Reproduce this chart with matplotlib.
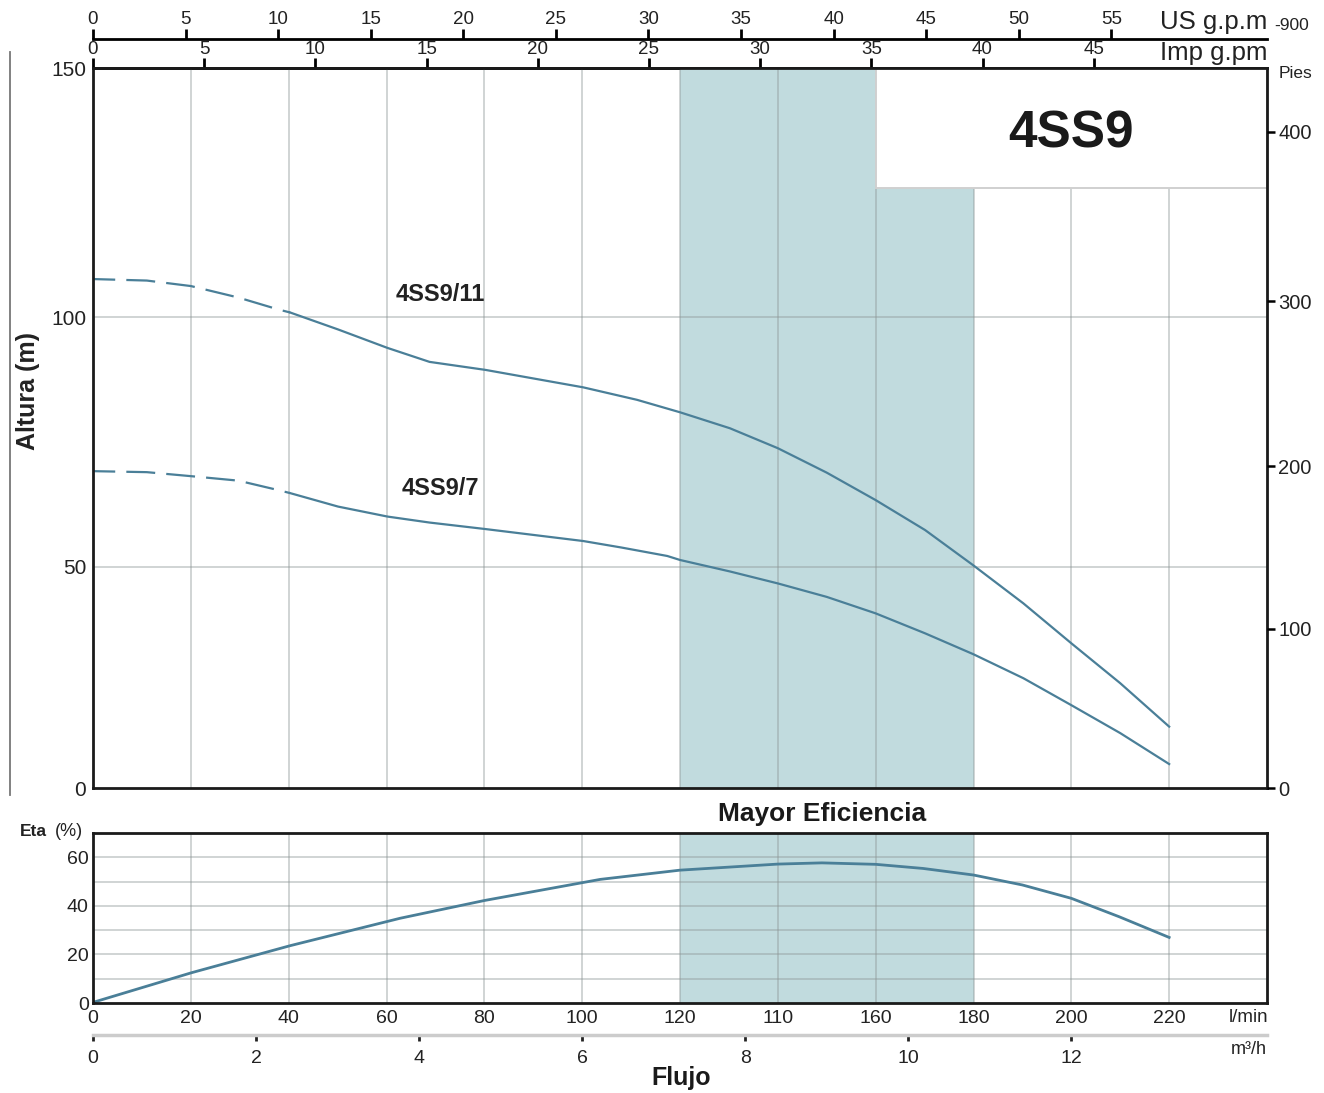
import matplotlib.pyplot as plt
from matplotlib.patches import Rectangle
from matplotlib.lines import Line2D
import numpy as np

plt.rcParams['font.family'] = ['Liberation Sans', 'DejaVu Sans']
narrow = ['Liberation Sans Narrow', 'Liberation Sans', 'DejaVu Sans']

# flow in l/min, head in m
q11 = [0, 11, 20, 29.7, 37.9, 40.3, 50.1, 60.2, 68.8, 80.2, 100.2, 111.2, 120, 130.2, 140, 150,
       160, 170.1, 180, 190.2, 200, 210, 220]
h11 = [107.7, 107.4, 106.3, 104.0, 101.6, 101.0, 97.6, 93.9, 91.1, 89.5, 86.0, 83.5, 81.0, 77.8, 73.8, 68.9,
       63.4, 57.4, 50.3, 42.7, 34.7, 26.7, 18.0]
q7 = [0, 11, 20, 29.7, 37.9, 40.3, 50.1, 60.2, 68.8, 80.2, 100.2, 108, 117.4, 120, 130.2, 140, 150,
      160, 170.1, 180, 190.2, 200, 210, 220]
h7 = [69.2, 69.0, 68.2, 67.3, 65.4, 64.8, 62.1, 60.1, 58.9, 57.6, 55.2, 53.9, 52.2, 51.4, 49.1, 46.7, 44.0,
      40.7, 36.7, 32.5, 27.7, 22.3, 16.7, 10.5]
q_eta = [0.4, 20.2, 40.3, 62.8, 80, 103.7, 120, 140, 149, 160, 169.7, 180, 190, 200, 209.8, 220]
eta = [0.5, 12.5, 23.6, 34.9, 42.2, 50.9, 54.7, 57.2, 57.7, 57.1, 55.4, 52.7, 48.6, 43.1, 35.5, 27.0]
dash_end = 40.3  # dashed part of head curves

lmin_ticks = [0, 20, 40, 60, 80, 100, 120, 140, 160, 180, 200, 220]
lmin_labels = ['0', '20', '40', '60', '80', '100', '120', '110', '160', '180', '200', '220']
us_ticks = list(range(0, 60, 5))
imp_ticks = list(range(0, 50, 5))
m3h_ticks = [0, 2, 4, 6, 8, 10, 12]
pies_labels = ['0', '100', '200', '300', '400']
pies_pos = [5.7, 37.6, 70.2, 103.3, 137.2]
best_lo, best_hi = 120, 180

curve_c = '#4a7f98'
shade_c = '#c1dbde'
grid_c = (0.55, 0.58, 0.58, 0.4)
txt_c = '#222222'
ymin = 5.7

fig = plt.figure(figsize=(13.24, 10.93), dpi=100)
L, W = 93 / 1324, 1174 / 1324

# main head chart
ax = fig.add_axes([L, 305 / 1093, W, 720 / 1093])
ax.set_xlim(0, 240)
ax.set_ylim(ymin, 150)
ax.axvspan(best_lo, best_hi, color=shade_c, zorder=0.5, lw=0)
for x in lmin_ticks[1:]:
    ax.axvline(x, color=grid_c, lw=1.4, zorder=1)
for y in [50, 100]:
    ax.axhline(y, color=grid_c, lw=1.4, zorder=1)
# title box
ax.add_patch(Rectangle((160, 125.9), 80, 30, facecolor='white', edgecolor='#d0d0d0', lw=1.4, zorder=1.5))
ax.text(200, 136.8, '4SS9', fontsize=37, fontweight='bold', family=narrow,
        ha='center', va='center', color='#1a1a1a', zorder=3)

for q, h in [(q11, h11), (q7, h7)]:
    q = np.array(q)
    h = np.array(h)
    ax.plot(q[q <= dash_end], h[q <= dash_end], color=curve_c, lw=1.6, ls=(3, (13, 5)), zorder=2)
    ax.plot(q[q >= dash_end], h[q >= dash_end], color=curve_c, lw=1.6, zorder=2)
ax.text(71, 104.7, '4SS9/11', fontsize=17, fontweight='bold', ha='center', va='center', color=txt_c)
ax.text(71, 65.8, '4SS9/7', fontsize=17, fontweight='bold', ha='center', va='center', color=txt_c)

ax.set_yticks([ymin, 50, 100, 150])
ax.set_yticklabels(['0', '50', '100', '150'])
ax.set_xticks([])
ax.tick_params(axis='y', length=0, pad=5, labelsize=15, labelcolor=txt_c)
for s in ax.spines.values():
    s.set_linewidth(2)
    s.set_color('#1a1a1a')
    s.set_zorder(4)

# right axis in feet
axr = ax.twinx()
axr.set_ylim(ymin, 150)
axr.set_yticks(pies_pos)
axr.set_yticklabels(pies_labels)
axr.tick_params(axis='y', direction='out', length=6, width=1.8, labelsize=14.5, pad=2, labelcolor=txt_c)
for s in axr.spines.values():
    s.set_visible(False)

# Imp g.pm on top
imp = ax.secondary_xaxis('top', functions=(lambda x: x / 4.546, lambda x: x * 4.546))
imp.set_xticks(imp_ticks)
imp.tick_params(direction='out', length=7, width=2, labelsize=13.5, pad=0, labelcolor=txt_c)
imp.spines['top'].set_linewidth(2)
fig.text(1267 / 1324, 1 - 53 / 1093, 'Imp g.pm', fontsize=18.5, ha='right', va='center', color=txt_c)

# US g.p.m line
axu = fig.add_axes([L, 1 - 39 / 1093, W, 0.0001])
axu.set_xlim(0, 240 / 3.785)
for k in ['left', 'right', 'bottom']:
    axu.spines[k].set_visible(False)
axu.spines['top'].set_linewidth(2)
axu.set_yticks([])
axu.xaxis.set_ticks_position('top')
axu.set_xticks(us_ticks)
axu.tick_params(direction='out', length=7, width=2, labelsize=13.5, pad=1, labelcolor=txt_c)
axu.patch.set_visible(False)
fig.text(1267 / 1324, 1 - 22 / 1093, 'US g.p.m', fontsize=18.5, ha='right', va='center', color=txt_c)
fig.text(1274 / 1324, 1 - 25 / 1093, '-900', fontsize=12.5, ha='left', va='center', color=txt_c)
fig.text(1279 / 1324, 1 - 73 / 1093, 'Pies', fontsize=12.5, ha='left', va='center', color=txt_c)

# left thin line and label
fig.add_artist(Line2D([10 / 1324, 10 / 1324], [1 - 52 / 1093, 1 - 795 / 1093], color='#777777', lw=1.3))
fig.text(28 / 1324, 1 - 391 / 1093, 'Altura (m)', fontsize=18, fontweight='bold', rotation=90,
         ha='center', va='center', color=txt_c)

# efficiency chart
ae = fig.add_axes([L, 90 / 1093, W, 170 / 1093])
ae.set_xlim(0, 240)
ae.set_ylim(0, 70)
ae.axvspan(best_lo, best_hi, color=shade_c, zorder=0.5, lw=0)
for x in lmin_ticks[1:]:
    ae.axvline(x, color=grid_c, lw=1.4, zorder=1)
for y in range(10, 70, 10):
    ae.axhline(y, color=grid_c, lw=1.4, zorder=1)
ae.plot(q_eta, eta, color=curve_c, lw=2, zorder=2)
ae.set_yticks([0, 20, 40, 60])
ae.set_xticks(lmin_ticks)
ae.set_xticklabels(lmin_labels)
ae.tick_params(length=0, labelsize=14, labelcolor=txt_c)
ae.tick_params(axis='x', pad=5)
ae.tick_params(axis='y', pad=3)
for s in ae.spines.values():
    s.set_linewidth(2)
    s.set_color('#1a1a1a')
    s.set_zorder(4)
ae.text(149, 78, 'Mayor Eficiencia', fontsize=19, fontweight='bold', family=narrow,
        ha='center', va='center', color='#1a1a1a')
fig.text(20 / 1324, 1 - 832 / 1093, 'Eta', fontsize=12.5, fontweight='bold', ha='left', va='center', color=txt_c)
fig.text(55 / 1324, 1 - 832 / 1093, '(%)', fontsize=13, ha='left', va='center', color=txt_c)
fig.text(1268 / 1324, 1 - 1018 / 1093, 'l/min', fontsize=13.5, ha='right', va='center', color=txt_c)

# m3/h axis
am = fig.add_axes([L, 1 - 1035 / 1093, W, 0.0001])
am.set_xlim(0, 14.4)
for k in ['left', 'right', 'top']:
    am.spines[k].set_visible(False)
am.spines['bottom'].set_color('#cccccc')
am.spines['bottom'].set_linewidth(2.5)
am.set_yticks([])
am.set_xticks(m3h_ticks)
am.tick_params(direction='out', length=4, width=2, labelsize=14, pad=7, labelcolor=txt_c, color=txt_c)
am.patch.set_visible(False)
fig.text(1267 / 1324, 1 - 1050 / 1093, 'm³/h', fontsize=13, ha='right', va='center', color=txt_c)
fig.text(681 / 1324, 1 - 1078 / 1093, 'Flujo', fontsize=18, fontweight='bold', ha='center', va='center', color='#1a1a1a')

plt.savefig('out.png', dpi=100)
